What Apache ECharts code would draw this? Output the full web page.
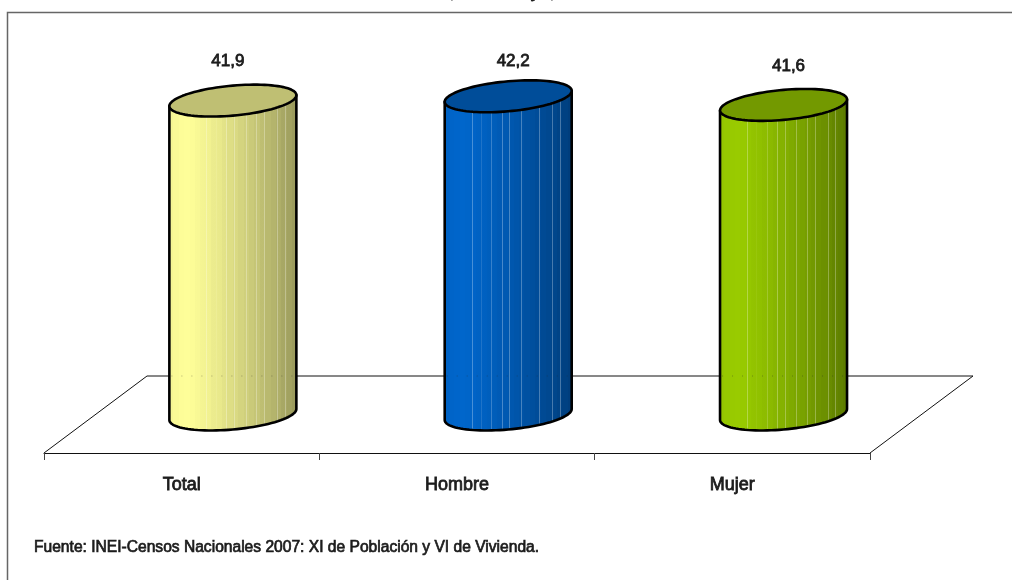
<!DOCTYPE html>
<html><head><meta charset="utf-8">
<style>html,body{margin:0;padding:0;background:#fff;overflow:hidden}#c{width:1012px;height:580px}</style>
<script src="https://cdn.jsdelivr.net/npm/echarts@6/dist/echarts.min.js"></script>
</head><body><div id="c"></div>
<script>
const categories = ['Total', 'Hombre', 'Mujer'];
const values = [41.9, 42.2, 41.6];
const valueLabels = ['41,9', '42,2', '41,6'];
const sourceNote = 'Fuente: INEI-Censos Nacionales 2007: XI de Población y VI de Vivienda.';

// styling, separate from the data
const sideColors = [[255,255,153],[0,102,204],[153,204,0]];
const capColors = ['#bfbf73','#004d99','#739900'];
const labelNudge = [[-5,-39],[5,-35],[5,-38.5]];
const stripes = [.22,.29,.37,.45,.51,.60,.68,.74,.84,.90];
const FONT = '"Liberation Sans",Arial,sans-serif';
const INK = '#1c1c1c';
const AXIS_MIN = 20, AXIS_MAX = 44;
const DEPTH = [103,-77];
const HALF_W = 63.5, CAP_B = 15, CAP_TILT = 5.5;

function sideGradient(rgb){
  const bands = 24, stops = [];
  const shade = t => {
    const f = t < .13 ? .96 + .04*t/.13 : 1 - .4*Math.pow((t-.13)/.87,1.25);
    return rgb.map(c => Math.round(c*f));
  };
  const css = c => 'rgb('+c.join(',')+')';
  for(let i=0;i<bands;i++){
    const a=i/bands,b=(i+1)/bands,c=shade((a+b)/2);
    stops.push({offset:a,color:css(c)},{offset:b,color:css(c)});
  }
  const out=stops.slice();
  stripes.forEach(p=>{
    const c=shade(p).map(v=>Math.round(v+(255-v)*.28));
    out.push({offset:p-.0001,color:css(shade(p))},{offset:p,color:css(c)},{offset:p+.007,color:css(c)},{offset:p+.0071,color:css(shade(p+.007))});
  });
  out.sort((a,b)=>a.offset-b.offset);
  return {type:'linear',x:0,y:0,x2:1,y2:0,colorStops:out};
}
function capPoint(cx,cy,t){
  return [cx+HALF_W*Math.cos(t), cy+CAP_B*Math.sin(t)-CAP_TILT*Math.cos(t)];
}
function renderCylinder(params,api){
  const i=api.value(0), v=api.value(1);
  const top=api.coord([i,v]), base=api.coord([i,AXIS_MIN]);
  const cx=top[0]+DEPTH[0]/2-.3, ty=top[1]+DEPTH[1]/2, by=base[1]+DEPTH[1]/2;
  const cap=[],lower=[];
  for(let k=0;k<=48;k++){ lower.push(capPoint(cx,by,Math.PI-Math.PI*k/48)); }
  const side=[capPoint(cx,ty,Math.PI)].concat(lower,[capPoint(cx,ty,0)]);
  for(let k=0;k<96;k++){ cap.push(capPoint(cx,ty,2*Math.PI*k/96)); }
  const floorY=base[1]+DEPTH[1];
  return {type:'group',children:[
    {type:'polygon',shape:{points:side},style:{fill:sideGradient(sideColors[i]),stroke:'#000',lineWidth:2.6,lineJoin:'round'}},
    {type:'line',shape:{x1:cx-HALF_W+2,y1:floorY,x2:cx+HALF_W-2,y2:floorY},style:{stroke:'rgba(40,40,40,.35)',lineWidth:1,lineDash:[1,9]}},
    {type:'polygon',shape:{points:cap},style:{fill:capColors[i],stroke:'#000',lineWidth:2.6,lineJoin:'round'}},
    {type:'text',style:{text:valueLabels[i],x:cx+labelNudge[i][0],y:ty+labelNudge[i][1],align:'center',verticalAlign:'middle',font:'17px '+FONT,fill:INK,stroke:INK,lineWidth:.8}}
  ]};
}
function renderFloor(params,api){
  const r=params.coordSys, y=r.y+r.height;
  const a=[r.x,y], b=[r.x+r.width,y];
  return {type:'polyline',shape:{points:[a,[a[0]+DEPTH[0],a[1]+DEPTH[1]],[b[0]+DEPTH[0],b[1]+DEPTH[1]],b]},style:{stroke:'#111',lineWidth:1,fill:null}};
}
const clipped = (t,x)=>({type:'text',style:{text:t,x:x,y:-7,align:'center',verticalAlign:'middle',font:'17px '+FONT,fill:INK,stroke:INK,lineWidth:.8}});
const chart=echarts.init(document.getElementById('c'),null,{renderer:'canvas'});
chart.setOption({
  animation:false,
  backgroundColor:'#fff',
  grid:{left:44,top:109,width:826,height:344},
  xAxis:{type:'category',data:categories,boundaryGap:true,
    axisLine:{lineStyle:{color:'#111',width:1}},
    axisTick:{show:true,length:7,alignWithLabel:false,lineStyle:{color:'#444'}},
    axisLabel:{fontFamily:'"Liberation Sans",Arial,sans-serif',fontSize:18,color:INK,textBorderColor:INK,textBorderWidth:.8,margin:23}},
  yAxis:{type:'value',min:AXIS_MIN,max:AXIS_MAX,show:false,splitLine:{show:false}},
  graphic:[
    {type:'rect',shape:{x:7.5,y:12.5,width:1100,height:700},style:{fill:null,stroke:'#666',lineWidth:1.5},z:-1},
    {type:'text',style:{text:sourceNote,x:34,y:548,verticalAlign:'middle',font:'15.6px '+FONT,fill:INK,stroke:INK,lineWidth:.7}},
    clipped(',',452),clipped('y',535),clipped(',',552)
  ],
  series:[
    {type:'custom',clip:false,silent:true,z:1,renderItem:renderFloor,data:[[0,AXIS_MIN]]},
    {type:'custom',clip:false,silent:true,z:2,renderItem:renderCylinder,
     encode:{x:0,y:1},data:values.map((v,i)=>[i,v])}
  ]
});
</script></body></html>
